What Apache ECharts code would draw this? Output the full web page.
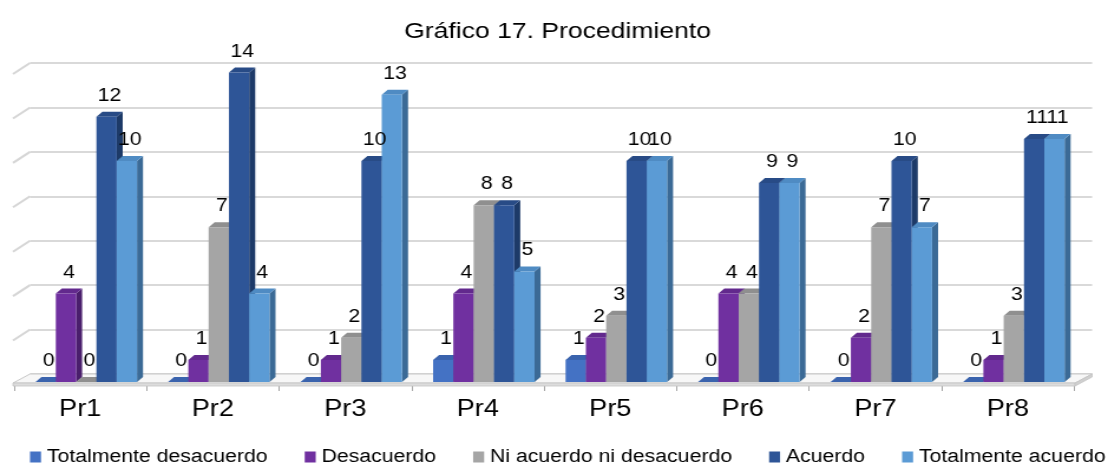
<!DOCTYPE html>
<html>
<head>
<meta charset="utf-8">
<script src="https://cdn.jsdelivr.net/npm/echarts@6/dist/echarts.min.js"></script>
<style>
  html, body { margin: 0; padding: 0; background: #fff; overflow: hidden; }
  #wrap { width: 1115px; height: 465px; overflow: hidden; }
  #chart { height: 465px; transform-origin: 0 0; }
</style>
</head>
<body>
<div id="wrap"><div id="chart"></div></div>
<script>
// ---- data ----
const categories = ['Pr1', 'Pr2', 'Pr3', 'Pr4', 'Pr5', 'Pr6', 'Pr7', 'Pr8'];
const seriesNames = ['Totalmente desacuerdo', 'Desacuerdo', 'Ni acuerdo ni desacuerdo', 'Acuerdo', 'Totalmente acuerdo'];
const totalmenteDesacuerdo = [0, 0, 0, 1, 1, 0, 0, 0];
const desacuerdo = [4, 1, 1, 4, 2, 4, 2, 1];
const niAcuerdoNiDesacuerdo = [0, 7, 2, 8, 3, 4, 7, 3];
const acuerdo = [12, 14, 10, 8, 10, 9, 10, 11];
const totalmenteAcuerdo = [10, 4, 13, 5, 10, 9, 7, 11];
const valueTicks = [0, 2, 4, 6, 8, 10, 12, 14];
const titleText = 'Gráfico 17. Procedimiento';

// ---- styling ----
const FONT = '"Liberation Sans", Arial, sans-serif';
const SX = 1.18;                      // the drawing is widened horizontally
const hx = v => v / SX;               // horizontal px in widened space -> layout px
const chartDom = document.getElementById('chart');
chartDom.style.width = (1115 / SX) + 'px';
chartDom.style.transform = 'scaleX(' + SX + ')';

const palette = [
  { front: '#4472C4', top: '#3a63ad', side: '#2c4c85' },
  { front: '#7030A0', top: '#62298d', side: '#4a1e6c' },
  { front: '#A5A5A5', top: '#8f8f8f', side: '#767676' },
  { front: '#2E5597', top: '#284b86', side: '#1d3a68' },
  { front: '#5B9BD5', top: '#4f8bc3', side: '#3b6a96' }
];
const seriesValues = [totalmenteDesacuerdo, desacuerdo, niAcuerdoNiDesacuerdo, acuerdo, totalmenteAcuerdo];

// depth offsets of the 3D look
const DEPTH_X = hx(17), DEPTH_Y = 9;   // floor / side wall
const BAR_W = hx(20.3), BAR_DX = hx(6), BAR_DY = 5, GROUP_SHIFT = hx(6);

function barRenderer(si) {
  return function (params, api) {
    const ci = api.value(0), v = api.value(1);
    const base = api.coord([ci, 0]);
    const top = api.coord([ci, v]);
    const x0 = base[0] + GROUP_SHIFT - 2.5 * BAR_W + si * BAR_W;
    const x1 = x0 + BAR_W, yb = base[1], yt = top[1];
    const c = palette[si];
    return {
      type: 'group',
      children: [
        { type: 'polygon', shape: { points: [[x1, yt], [x1 + BAR_DX, yt - BAR_DY], [x1 + BAR_DX, yb - BAR_DY], [x1, yb]] }, style: { fill: c.side } },
        { type: 'polygon', shape: { points: [[x0, yt], [x0 + BAR_DX, yt - BAR_DY], [x1 + BAR_DX, yt - BAR_DY], [x1, yt]] }, style: { fill: c.top } },
        { type: 'rect', shape: { x: x0, y: yt, width: BAR_W, height: yb - yt }, style: { fill: c.front } },
        { type: 'text', z2: 100, style: {
            text: String(v), x: (x0 + x1 + BAR_DX) / 2, y: yt - 21,
            align: 'center', verticalAlign: 'middle',
            fontSize: 18, fontFamily: FONT, fill: '#000' } }
      ]
    };
  };
}

// floor slab and side-wall gridline stubs, drawn in the back-wall grid
function wallRenderer(params, api) {
  const t = api.value(1);
  const p = api.coord([0, t]);
  const children = [];
  if (t === 0) {
    const q = api.coord([1, 0]);
    const BL = [p[0], p[1]], BR = [q[0], q[1]];
    const FL = [p[0] - DEPTH_X, p[1] + DEPTH_Y], FR = [q[0] - DEPTH_X, q[1] + DEPTH_Y];
    const T = 3;
    children.push(
      { type: 'polygon', shape: { points: [BL, BR, FR, FL] }, style: { fill: '#f7f7f7', stroke: '#c9c9c9', lineWidth: 1 } },
      { type: 'polygon', shape: { points: [FL, FR, [FR[0], FR[1] + T], [FL[0], FL[1] + T]] }, style: { fill: '#dcdcdc', stroke: '#c4c4c4', lineWidth: 0.8 } },
      { type: 'polygon', shape: { points: [BR, [BR[0], BR[1] + T], [FR[0], FR[1] + T], FR] }, style: { fill: '#d0d0d0', stroke: '#c4c4c4', lineWidth: 0.8 } }
    );
  } else {
    children.push({ type: 'line', shape: { x1: p[0], y1: p[1], x2: p[0] - DEPTH_X, y2: p[1] + DEPTH_Y + 2 },
      style: { stroke: '#d6d6d6', lineWidth: 2 } });
  }
  return { type: 'group', children };
}

const chart = echarts.init(chartDom, null, { renderer: 'canvas' });

const series = [{
  type: 'custom',
  name: 'walls',
  xAxisIndex: 1, yAxisIndex: 1,
  z: 1,
  silent: true,
  renderItem: wallRenderer,
  data: valueTicks.map(t => [0, t]),
  encode: { x: 0, y: 1 }
}];
seriesNames.forEach((name, si) => {
  series.push({
    type: 'custom',
    name: name,
    xAxisIndex: 0, yAxisIndex: 0,
    z: 2,
    renderItem: barRenderer(si),
    itemStyle: { color: palette[si].front },
    data: categories.map((c, i) => [i, seriesValues[si][i]]),
    encode: { x: 0, y: 1 }
  });
});

chart.setOption({
  animation: false,
  backgroundColor: '#fff',
  title: {
    text: titleText, left: 'center', top: 20, padding: 0,
    textStyle: { fontFamily: FONT, fontSize: 22.5, fontWeight: 'normal', color: '#000' }
  },
  legend: {
    data: seriesNames, left: hx(30), top: 448, padding: 0, width: hx(1080),
    itemWidth: hx(11), itemHeight: 11, itemGap: hx(37),
    icon: 'rect',
    textStyle: { fontFamily: FONT, fontSize: 18, color: '#000' }
  },
  grid: [
    // front plane: bars and category axis
    { left: hx(14), right: hx(41), top: 72.6, bottom: 83 },
    // back wall: gridlines
    { left: hx(30), right: hx(23), top: 63, bottom: 91 }
  ],
  xAxis: [{
    gridIndex: 0, type: 'category', data: categories, offset: 3,
    axisLine: { show: false },
    axisTick: { show: true, interval: 0, length: 9, lineStyle: { color: '#a6a6a6', width: 1 } },
    axisLabel: { margin: 13, fontFamily: FONT, fontSize: 23, color: '#000' },
    splitLine: { show: false }
  }, {
    gridIndex: 1, type: 'value', min: 0, max: 1, show: false
  }],
  yAxis: [{
    gridIndex: 0, type: 'value', min: 0, max: 14, interval: 2, show: false,
    splitLine: { show: false }
  }, {
    gridIndex: 1, type: 'value', min: 0, max: 14, interval: 2,
    axisLine: { show: false }, axisTick: { show: false }, axisLabel: { show: false },
    splitLine: { show: true, lineStyle: { color: '#d9d9d9', width: 2 } }
  }],
  series: series
});
</script>
</body>
</html>
